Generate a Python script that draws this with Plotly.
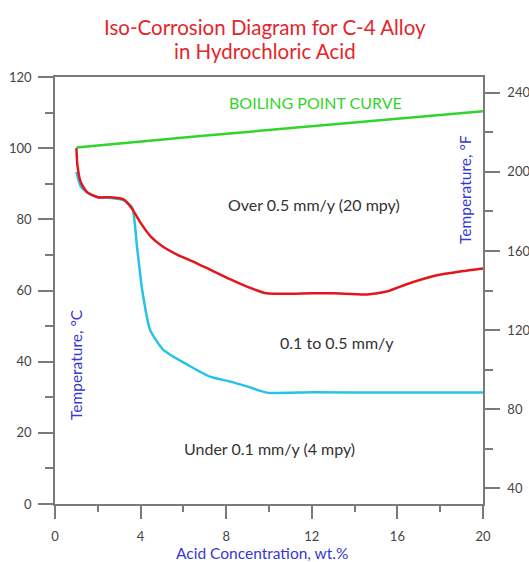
import plotly.graph_objects as go

# Data (acid concentration wt.%, temperature °C)
boil_x = [1.0, 6.8, 20.0]
boil_c = [100.2, 103.4, 110.4]

red_x = [1.0, 1.05, 1.2, 1.5, 2.0, 2.6, 3.2, 3.6, 4.0, 4.5, 5.0, 5.7, 6.5, 7.2, 8.2, 9.0, 9.9, 11, 12, 13, 14.6, 15.5, 16.4, 17.8, 19, 20]
red_c = [100, 95, 90.5, 87.6, 86.2, 86.2, 85.6, 83, 79, 75, 72.5, 70.1, 68, 66, 63.1, 61, 59.2, 59.1, 59.2, 59.2, 58.9, 59.7, 61.7, 64.2, 65.4, 66.2]

cyan_x = [1.0, 1.2, 1.5, 2.0, 2.6, 3.2, 3.6, 3.83, 4.07, 4.44, 5.05, 6.17, 7.24, 8.2, 9.0, 9.9, 12, 16, 20]
cyan_c = [93.3, 89.3, 87.6, 86.2, 86.0, 85.4, 83.4, 72.4, 60.3, 49, 43.4, 39.2, 35.8, 34.4, 33, 31.3, 31.4, 31.3, 31.3]

x_ticks = [0, 4, 8, 12, 16, 20]
c_ticks = [0, 20, 40, 60, 80, 100, 120]
f_ticks = [40, 80, 120, 160, 200, 240]

regions = [
    ("BOILING POINT CURVE", 12.15, 112.7, "#33d42a"),
    ("Over 0.5 mm/y (20 mpy)", 12.1, 84.2, "#333333"),
    ("0.1 to 0.5 mm/y", 13.2, 45.4, "#333333"),
    ("Under 0.1 mm/y (4 mpy)", 10.0, 15.5, "#333333"),
]

title_lines = ["Iso-Corrosion Diagram for C-4 Alloy", "in Hydrochloric Acid"]

FONT = "Lato, Open Sans, sans-serif"
AXC = "#7a7a7a"
PH = 427.0  # plot height px
PW = 428.0  # plot width px

fig = go.Figure()
fig.add_trace(go.Scatter(x=boil_x, y=boil_c, mode="lines",
                         line=dict(color="#2ed62a", width=2.5), showlegend=False))
fig.add_trace(go.Scatter(x=cyan_x, y=cyan_c, mode="lines",
                         line=dict(color="#25c3e6", width=2.5, shape="spline", smoothing=0.6),
                         showlegend=False))
fig.add_trace(go.Scatter(x=red_x, y=red_c, mode="lines",
                         line=dict(color="#e3161b", width=2.5, shape="spline", smoothing=0.6),
                         showlegend=False))
# invisible trace for F axis
fig.add_trace(go.Scatter(x=[0], y=[100], yaxis="y2", mode="markers",
                         marker=dict(opacity=0), showlegend=False, hoverinfo="skip"))

for text, x, y, col in regions:
    fig.add_annotation(x=x, y=y, text=text, showarrow=False,
                       xanchor="center", yanchor="middle",
                       font=dict(family=FONT, size=16, color=col))

for line, ypx in zip(title_lines, [27, 51]):
    fig.add_annotation(xref="paper", yref="paper", x=(265 - 55) / PW, y=(504 - ypx) / PH,
                       text=line, showarrow=False, xanchor="center", yanchor="middle",
                       font=dict(family=FONT, size=20.5, color="#e3262b"))

fig.add_annotation(xref="paper", yref="paper", x=(76 - 55) / PW, y=(504 - 365) / PH,
                   text="Temperature, °C", textangle=-90, showarrow=False,
                   xanchor="center", yanchor="middle",
                   font=dict(family=FONT, size=15.5, color="#3838d0"))
fig.add_annotation(xref="paper", yref="paper", x=(465 - 55) / PW, y=(504 - 190) / PH,
                   text="Temperature, °F", textangle=-90, showarrow=False,
                   xanchor="center", yanchor="middle",
                   font=dict(family=FONT, size=15.5, color="#3838d0"))
fig.add_annotation(xref="paper", yref="paper", x=(262 - 55) / PW, y=-(553 - 504) / PH,
                   text="Acid Concentration, wt.%", showarrow=False,
                   xanchor="center", yanchor="middle",
                   font=dict(family=FONT, size=15.5, color="#3838d0"))

fig.update_layout(
    width=529, height=562,
    margin=dict(l=55, r=46, t=77, b=58, autoexpand=False),
    plot_bgcolor="white", paper_bgcolor="white",
    xaxis=dict(range=[0, 20], tickvals=x_ticks, ticks="outside", ticklen=13,
               tickcolor=AXC, tickwidth=1.5, showline=True, linecolor=AXC, linewidth=1.5,
               mirror=True, showgrid=False, zeroline=False, ticklabelstandoff=7,
               automargin=False,
               minor=dict(dtick=2, ticks="outside", ticklen=6, tickcolor=AXC, tickwidth=1.5),
               tickfont=dict(family=FONT, size=13, color="#444444")),
    yaxis=dict(range=[0, 120], tickvals=c_ticks, ticks="outside", ticklen=15,
               tickcolor=AXC, tickwidth=1.5, showline=True, linecolor=AXC, linewidth=1.5,
               showgrid=False, zeroline=False, ticklabelstandoff=4, automargin=False,
               minor=dict(dtick=10, ticks="outside", ticklen=8, tickcolor=AXC, tickwidth=1.5),
               tickfont=dict(family=FONT, size=13, color="#444444")),
    yaxis2=dict(range=[32, 248], tickvals=f_ticks, overlaying="y", side="right",
                ticks="outside", ticklen=15, tickcolor=AXC, tickwidth=1.5, ticklabelstandoff=5,
                showline=True, linecolor=AXC, linewidth=1.5, showgrid=False, zeroline=False,
                automargin=False,
                minor=dict(dtick=20, ticks="outside", ticklen=8, tickcolor=AXC, tickwidth=1.5),
                tickfont=dict(family=FONT, size=13, color="#444444")),
)

fig.write_html("out.html")
